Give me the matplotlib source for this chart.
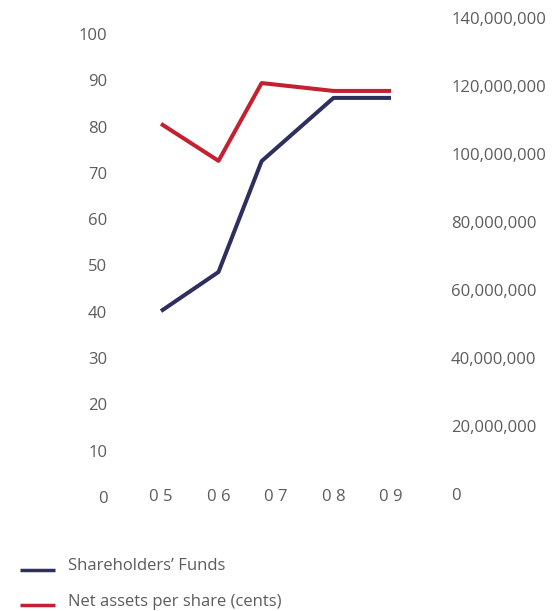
import matplotlib.pyplot as plt
from matplotlib.lines import Line2D

plt.rcParams['font.family'] = ['Open Sans', 'DejaVu Sans']

years = ['05', '06', '07', '08', '09']
year_pos = [0, 1, 1.75, 3, 4]
funds = [53.8e6, 65.3e6, 97.9e6, 116.5e6, 116.5e6]
nav_cents = [80.6, 72.6, 89.4, 87.7, 87.7]
left_ticks = list(range(0, 101, 10))
right_ticks = list(range(0, 140000001, 20000000))

navy = '#2d2f5e'
red = '#c5202f'
grey = '#5b5c5e'

W, H = 558, 611
fig = plt.figure(figsize=(W / 100, H / 100), dpi=100)
# axes box in pixels: x 115..440, y 15..500 (from top)
ax = fig.add_axes([115 / W, (H - 500) / H, 325 / W, 485 / H])
ax2 = ax.twinx()

ax.plot(year_pos, nav_cents, color=red, lw=2.9, solid_capstyle='butt', zorder=3)
ax2.plot(year_pos, funds, color=navy, lw=2.9, solid_capstyle='butt', zorder=2)

ax.set_xlim(-0.8, 4.852)
ax.set_ylim(-0.65, 104.1)
ax2.set_ylim(-1.76e6, 140.88e6)

ax.set_xticks(range(len(years)))
ax.set_xticklabels([y[0] + ' ' + y[1] for y in years])
ax.set_yticks(left_ticks)
ax.set_yticklabels([str(v) for v in left_ticks])
ax2.set_yticks(right_ticks)
ax2.set_yticklabels(['{:,}'.format(v) for v in right_ticks])

ax.tick_params(axis='x', length=0, pad=-8, labelsize=12, labelcolor=grey)
ax.tick_params(axis='y', length=0, pad=5.5, labelsize=12, labelcolor=grey)
ax2.tick_params(axis='y', length=0, pad=8, labelsize=12, labelcolor=grey)

for a in (ax, ax2):
    for s in a.spines.values():
        s.set_visible(False)
ax.patch.set_visible(False)

# legend drawn by hand
for ypix, col, label in [(570, navy, 'Shareholders\u2019 Funds'),
                         (605, red, 'Net assets per share (cents)')]:
    fy = (H - ypix) / H
    fig.add_artist(Line2D([20 / W, 55 / W], [fy, fy], color=col, lw=2.5,
                          solid_capstyle='butt'))
    fig.text(68 / W, fy - 0.5 / H, label, fontsize=12, color=grey, va='baseline')

fig.savefig('out.png', dpi=100)
